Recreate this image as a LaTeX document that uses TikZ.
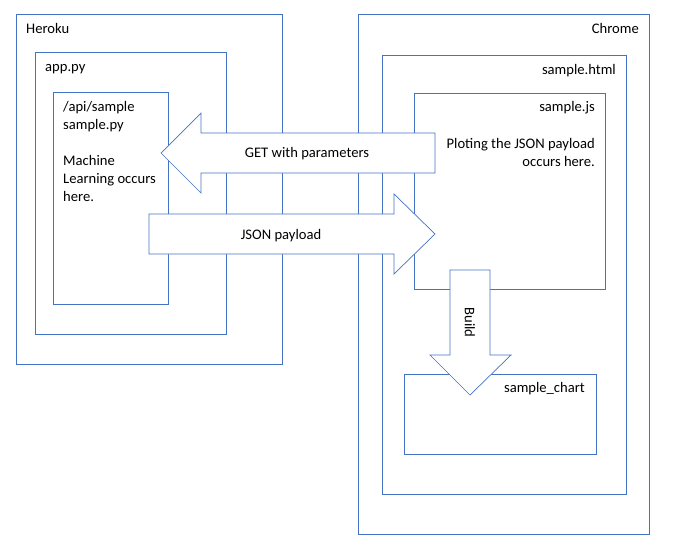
\documentclass[tikz,border=0pt]{standalone}
\usepackage{fontspec}
\setmainfont{Carlito}
\begin{document}
\begin{tikzpicture}[x=1pt,y=-1pt,
  box/.style={draw=boxblue, line width=0.9pt, fill=white, inner sep=0pt, anchor=north west},
  blockarrow/.style={draw=boxblue, line width=0.7pt, fill=white, line join=miter},
  lbl/.style={inner sep=0pt, font=\fontsize{14.6}{18}\selectfont},
]
\definecolor{boxblue}{HTML}{4472C4}
\useasboundingbox[fill=white] (0,0) rectangle (677,549);
% Heroku side
\node[box, minimum width=266pt, minimum height=350pt] (heroku) at (16,14) {};
\node[box, minimum width=191pt, minimum height=282pt] (apppy) at (35,52) {};
\node[box, minimum width=115pt, minimum height=212pt] (samplepy) at (53,92) {};
% Chrome side
\node[box, minimum width=291pt, minimum height=520pt] (chrome) at (358,14) {};
\node[box, minimum width=244pt, minimum height=439pt] (html) at (382,55) {};
\node[box, minimum width=191pt, minimum height=196pt] (js) at (414,93) {};
\node[box, minimum width=192pt, minimum height=80pt] (chart) at (404,374) {};
% block arrows
\draw[blockarrow] (161,153) -- (201,113) -- (201,133) -- (435,133) -- (435,173) -- (201,173) -- (201,193) -- cycle;
\draw[blockarrow] (149,214) -- (394,214) -- (394,194) -- (435,234) -- (394,274) -- (394,254) -- (149,254) -- cycle;
\draw[blockarrow] (450,270) -- (490,270) -- (490,355) -- (511,355) -- (470,395) -- (430,355) -- (450,355) -- cycle;
% labels
\node[lbl, anchor=base west] (lheroku) at (26,33) {Heroku};
\node[lbl, anchor=base west] (lapp) at (45,71) {app.py};
\node[lbl, anchor=base west] (lapi1) at (63,111) {/api/sample};
\node[lbl, anchor=base west] (lapi2) at (63,129) {sample.py};
\node[lbl, anchor=base west] (lml1) at (63,165.5) {Machine};
\node[lbl, anchor=base west] (lml2) at (63,183.5) {Learning occurs};
\node[lbl, anchor=base west] (lml3) at (63,201.5) {here.};
\node[lbl, anchor=base] (lget) at (307,157.5) {GET with parameters};
\node[lbl, anchor=base] (ljson) at (281,239) {JSON payload};
\node[lbl, anchor=base east] (lchrome) at (639,33) {Chrome};
\node[lbl, anchor=base east] (lhtml) at (616,74) {sample.html};
\node[lbl, anchor=base east] (ljs) at (595,111.5) {sample.js};
\node[lbl, anchor=base east] (lplot1) at (595,148.5) {Ploting the JSON payload};
\node[lbl, anchor=base east] (lplot2) at (595,166) {occurs here.};
\node[lbl, anchor=base east] (lchart) at (585,392.5) {sample\_chart};
\node[lbl, rotate=-90] (lbuild) at (470,322.5) {Build};
\end{tikzpicture}
\end{document}
